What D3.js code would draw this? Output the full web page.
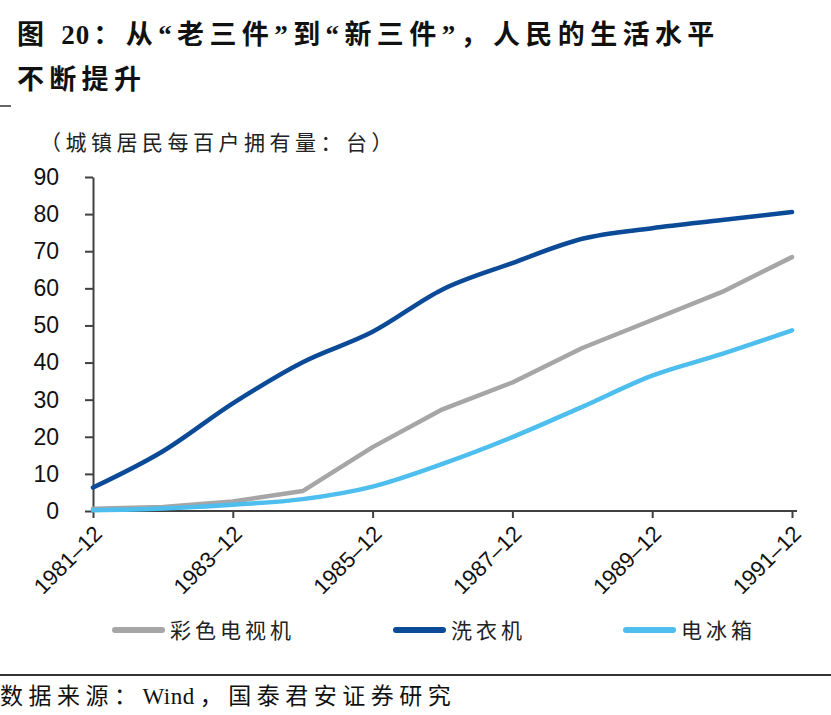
<!DOCTYPE html>
<html><head><meta charset="utf-8">
<script src="https://cdn.jsdelivr.net/npm/d3@7"></script>
<style>body{margin:0;background:#fff}svg{display:block}</style>
</head><body>
<script>
const years = ["1981–12","1982–12","1983–12","1984–12","1985–12","1986–12","1987–12","1988–12","1989–12","1990–12","1991–12"];
const tickLabels = ["1981–12","1983–12","1985–12","1987–12","1989–12","1991–12"];
const colorTV = [0.59,1.1,2.57,5.38,17.21,27.41,34.63,43.93,51.47,59.04,68.41];
const washer = [6.31,16.1,29.0,40.1,48.29,59.70,66.81,73.36,76.21,78.41,80.58];
const fridge = [0.22,0.7,1.7,3.2,6.58,12.71,19.91,28.07,36.47,42.33,48.70];
const seriesNames = ["彩色电视机","洗衣机","电冰箱"];
const yTicks = [0,10,20,30,40,50,60,70,80,90];

const W=831,H=715;
const svg=d3.select("body").append("svg").attr("width",W).attr("height",H);
const cjk='"Liberation Serif","Noto Sans CJK SC",serif';
const arial='Arial,"Liberation Sans",sans-serif';

function spanned(sel, parts){
  parts.forEach(p=>sel.append("tspan").attr("letter-spacing",p[1]).text(p[0]));
}

// Title
const t1=svg.append("text").attr("x",17).attr("y",44).attr("font-family",cjk).attr("font-weight","bold")
  .attr("font-size",27).attr("fill","#111");
spanned(t1,[["图 ",5.3],["2",1],["0",4],["：从“老三件”到“新三件”，人民的生活水平",5.4]]);
svg.append("text").attr("x",17).attr("y",89).attr("font-family",cjk).attr("font-weight","bold")
  .attr("font-size",27).attr("letter-spacing",5.3).attr("fill","#111").text("不断提升");
svg.append("line").attr("x1",0).attr("x2",11).attr("y1",106).attr("y2",106).attr("stroke","#333").attr("stroke-width",1.5);

// subtitle
svg.append("text").attr("x",40).attr("y",150).attr("font-family",cjk).attr("font-size",21).attr("letter-spacing",4.5).attr("fill","#222")
  .text("（城镇居民每百户拥有量：台）");

const x=d3.scalePoint().domain(years).range([93,792]);
const y=d3.scaleLinear().domain([0,90]).range([511,177]);

// y axis
const yAxis=svg.append("g").attr("transform","translate(93,0)")
  .call(d3.axisLeft(y).tickValues(yTicks).tickSize(8).tickPadding(26).tickSizeOuter(0));
yAxis.select(".domain").attr("stroke","#404040").attr("stroke-width",2);
yAxis.selectAll(".tick line").attr("stroke","#404040").attr("stroke-width",2);
yAxis.selectAll("text").attr("font-family",arial).attr("font-size",23).attr("fill","#111");

// x axis
const xAxis=svg.append("g").attr("transform","translate(0,511)")
  .call(d3.axisBottom(x).tickValues(tickLabels).tickSize(7).tickSizeOuter(0));
xAxis.select(".domain").attr("d","M93,0H797").attr("stroke","#404040").attr("stroke-width",2);
xAxis.selectAll(".tick line").attr("stroke","#404040").attr("stroke-width",2);
xAxis.selectAll("text").attr("font-family",arial).attr("font-size",22).attr("fill","#111")
  .attr("text-anchor","end").attr("dy",0).attr("y",0)
  .attr("transform","translate(10,24) rotate(-45)");

// lines
const series=[
  {name:seriesNames[0],values:colorTV,color:"#A6A6A6",curve:d3.curveLinear},
  {name:seriesNames[1],values:washer,color:"#0B4A97",curve:d3.curveMonotoneX},
  {name:seriesNames[2],values:fridge,color:"#4DBEEE",curve:d3.curveMonotoneX}
];
const drawOrder=[0,2,1];
drawOrder.forEach(i=>{
  const s=series[i];
  const line=d3.line().x((d,j)=>x(years[j])).y(d=>y(d)).curve(s.curve);
  svg.append("path").datum(s.values).attr("d",line).attr("fill","none")
    .attr("stroke",s.color).attr("stroke-width",4.5).attr("stroke-linecap","round").attr("stroke-linejoin","round");
});

// legend
const legendPos=[113,394,624];
series.forEach((s,i)=>{
  const lx=legendPos[i];
  svg.append("line").attr("x1",lx+2).attr("x2",lx+49).attr("y1",630).attr("y2",630)
    .attr("stroke",s.color).attr("stroke-width",6).attr("stroke-linecap","round");
  svg.append("text").attr("x",lx+57).attr("y",638).attr("font-family",cjk).attr("font-size",21).attr("letter-spacing",4).attr("fill","#222").text(s.name);
});

// separator & source
svg.append("line").attr("x1",0).attr("x2",W).attr("y1",675).attr("y2",675).attr("stroke","#333").attr("stroke-width",2);
const src=svg.append("text").attr("x",0).attr("y",704).attr("font-family",cjk).attr("font-size",23).attr("fill","#111");
spanned(src,[["数据来源：",5.5],["Win",0.5],["d",5.5],["，国泰君安证券研究",5.5]]);
</script>
</body></html>
